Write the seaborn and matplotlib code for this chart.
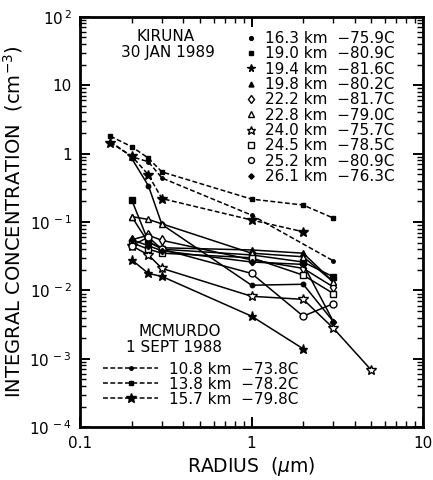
import numpy as np
import pandas as pd
import matplotlib
matplotlib.use("Agg")
import matplotlib.pyplot as plt
from matplotlib.lines import Line2D
from matplotlib.ticker import LogLocator, FixedLocator, NullFormatter
import seaborn as sns

sns.set_style("ticks")
plt.rcParams['font.family'] = ['DejaVu Sans']
plt.rcParams['text.color'] = 'black'
plt.rcParams['axes.labelcolor'] = 'black'
plt.rcParams['xtick.color'] = 'black'
plt.rcParams['ytick.color'] = 'black'

# ---------------- data ----------------
kiruna_labels = ["16.3 km  \u221275.9C", "19.0 km  \u221280.9C", "19.4 km  \u221281.6C",
                 "19.8 km  \u221280.2C", "22.2 km  \u221281.7C", "22.8 km  \u221279.0C",
                 "24.0 km  \u221275.7C", "24.5 km  \u221278.5C", "25.2 km  \u221280.9C",
                 "26.1 km  \u221276.3C"]

k163_x = [0.2, 0.25, 0.3, 1, 2, 3]
k163_y = [0.85, 0.34, 0.092, 0.0119, 0.0123, 0.0035]
k190_x = [0.2, 0.25, 0.3, 1, 2, 3]
k190_y = [0.21, 0.052, 0.040, 0.033, 0.026, 0.0158]
k194_x = [0.2, 0.25, 0.3, 1, 2]
k194_y = [0.028, 0.0177, 0.016, 0.0042, 0.0014]
k198_x = [0.2, 0.25, 0.3, 1, 2, 3]
k198_y = [0.12, 0.050, 0.042, 0.039, 0.035, 0.0133]
k222_x = [0.2, 0.25, 0.3, 1, 2, 3]
k222_y = [0.055, 0.064, 0.054, 0.028, 0.021, 0.0112]
k228_x = [0.2, 0.25, 0.3, 1, 2, 3]
k228_y = [0.12, 0.109, 0.094, 0.035, 0.031, 0.0133]
k240_x = [0.2, 0.25, 0.3, 1, 2, 3, 5]
k240_y = [0.045, 0.033, 0.021, 0.0082, 0.0074, 0.0028, 0.00068]
k245_x = [0.2, 0.25, 0.3, 1, 2, 3]
k245_y = [0.050, 0.040, 0.035, 0.030, 0.0167, 0.0090]
k252_x = [0.2, 0.25, 0.3, 1, 2, 3]
k252_y = [0.045, 0.060, 0.040, 0.0177, 0.0042, 0.0064]
k261_x = [0.2, 0.25, 0.3, 1, 2, 3]
k261_y = [0.055, 0.045, 0.038, 0.026, 0.024, 0.0035]

mcm_labels = ["10.8 km  \u221273.8C", "13.8 km  \u221278.2C", "15.7 km  \u221279.8C"]
m108_x = [0.15, 0.2, 0.25, 0.3, 1, 3]
m108_y = [1.5, 0.9, 0.76, 0.44, 0.126, 0.027]
m138_x = [0.15, 0.2, 0.25, 0.3, 1, 2, 3]
m138_y = [1.8, 1.26, 0.86, 0.54, 0.216, 0.177, 0.114]
m157_x = [0.15, 0.2, 0.25, 0.3, 1, 2]
m157_y = [1.45, 0.92, 0.49, 0.22, 0.107, 0.072]

x_ticks = [0.1, 1, 10]
x_ticklabels = ["0.1", "1", "10"]
y_ticks = [1e-4, 1e-3, 1e-2, 1e-1, 1, 10, 100]
y_ticklabels = [r"10$^{\,-4}$", r"10$^{\,-3}$", r"10$^{\,-2}$", r"10$^{\,-1}$", "1", "10", r"10$^{\,2}$"]

kiruna = [(k163_x, k163_y), (k190_x, k190_y), (k194_x, k194_y), (k198_x, k198_y),
          (k222_x, k222_y), (k228_x, k228_y), (k240_x, k240_y), (k245_x, k245_y),
          (k252_x, k252_y), (k261_x, k261_y)]
mcm = [(m108_x, m108_y), (m138_x, m138_y), (m157_x, m157_y)]

# marker styles: (marker, size, filled)
k_styles = [("o", 3.2, True), ("s", 4.2, True), ("*", 6.5, True), ("^", 4.2, True),
            ("d", 5.0, False), ("^", 5.0, False), ("*", 7.5, False), ("s", 4.6, False),
            ("o", 5.0, False), ("D", 3.2, True)]
m_styles = [("o", 2.5, True), ("s", 3.5, True), ("*", 7, True)]

frames = []
for lab, (xs, ys) in zip(kiruna_labels, kiruna):
    frames.append(pd.DataFrame({"radius": xs, "conc": ys, "series": lab}))
for lab, (xs, ys) in zip(mcm_labels, mcm):
    frames.append(pd.DataFrame({"radius": xs, "conc": ys, "series": lab}))
df = pd.concat(frames, ignore_index=True)

fig = plt.figure(figsize=(4.33, 4.80), dpi=100)
ax = fig.add_axes([0.185, 0.110, 0.792, 0.855])

dash = (3.2, 1.6)
for lab, (m, s, f) in zip(kiruna_labels, k_styles):
    sub = df[df.series == lab]
    sns.lineplot(data=sub, x="radius", y="conc", ax=ax, color="black", lw=1.1,
                 marker=m, markersize=s, markerfacecolor="black" if f else "white",
                 markeredgecolor="black", markeredgewidth=1.0, estimator=None,
                 sort=False, legend=False)
for lab, (m, s, f) in zip(mcm_labels, m_styles):
    sub = df[df.series == lab]
    sns.lineplot(data=sub, x="radius", y="conc", ax=ax, color="black", lw=1.1,
                 dashes=False, marker=m, markersize=s, markerfacecolor="black",
                 markeredgecolor="black", markeredgewidth=1.0, estimator=None,
                 sort=False, legend=False)
    ax.lines[-1].set_dashes(dash)

ax.set_xscale("log")
ax.set_yscale("log")
ax.set_xlim(0.1, 10)
ax.set_ylim(1e-4, 1e2)

ax.xaxis.set_major_locator(FixedLocator(x_ticks))
ax.set_xticklabels(x_ticklabels)
ax.xaxis.set_minor_locator(LogLocator(base=10, subs=np.arange(2, 10)))
ax.xaxis.set_minor_formatter(NullFormatter())
ax.yaxis.set_major_locator(FixedLocator(y_ticks))
ax.set_yticklabels(y_ticklabels)
ax.yaxis.set_minor_locator(LogLocator(base=10, subs=np.arange(2, 10)))
ax.yaxis.set_minor_formatter(NullFormatter())

ax.tick_params(which="both", direction="in", top=True, right=True, color="black")
ax.tick_params(which="major", length=7, width=1.4, labelsize=11, pad=6)
ax.tick_params(which="minor", length=4, width=1.0)
for sp in ax.spines.values():
    sp.set_linewidth(2.0)
    sp.set_color("black")

ax.set_xlabel(r"RADIUS  ($\mu$m)", fontsize=13.5, labelpad=3)
ax.set_ylabel(r"INTEGRAL CONCENTRATION  (cm$^{-3}$)", fontsize=14, labelpad=3)

ax.text(0.25, 0.953, "KIRUNA", transform=ax.transAxes, ha="center", va="center", fontsize=11)
ax.text(0.255, 0.914, "30 JAN 1989", transform=ax.transAxes, ha="center", va="center", fontsize=11)
ax.text(0.29, 0.232, "MCMURDO", transform=ax.transAxes, ha="center", va="center", fontsize=11)
ax.text(0.275, 0.195, "1 SEPT 1988", transform=ax.transAxes, ha="center", va="center", fontsize=11)

k_handles = [Line2D([], [], ls="none", marker=m, markersize=s * 0.85,
                    markerfacecolor="black" if f else "white", markeredgecolor="black",
                    markeredgewidth=1.0, color="black") for (m, s, f) in k_styles]
leg1 = ax.legend(k_handles, kiruna_labels, loc="upper left", bbox_to_anchor=(0.48, 0.965),
                 frameon=False, fontsize=11, handlelength=0.8, handletextpad=0.5,
                 labelspacing=0.02, borderpad=0, borderaxespad=0)
ax.add_artist(leg1)

m_handles = [Line2D([], [], color="black", lw=1.1, dashes=dash, marker=m, markersize=s,
                    markerfacecolor="black", markeredgecolor="black") for (m, s, f) in m_styles]
leg2 = ax.legend(m_handles, mcm_labels, loc="lower left", bbox_to_anchor=(0.067, 0.05),
                 frameon=False, fontsize=11, handlelength=3.6, handletextpad=0.7,
                 labelspacing=0.0, borderpad=0, borderaxespad=0)

fig.savefig("out.png", dpi=100)
